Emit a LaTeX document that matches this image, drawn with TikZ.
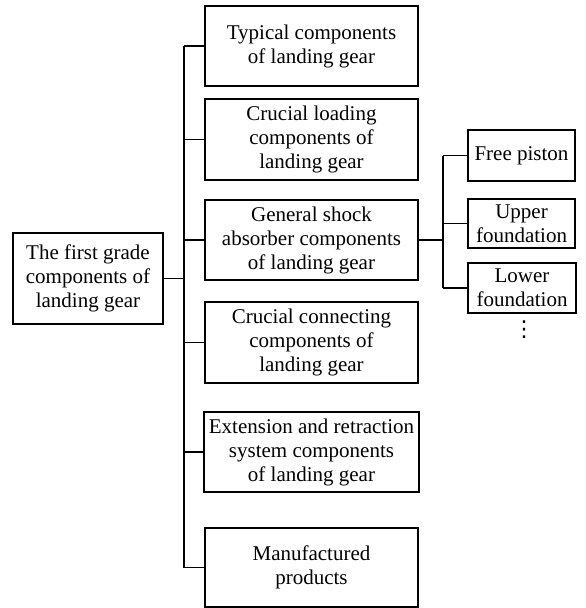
\documentclass[tikz,border=0pt]{standalone}
\usepackage{fontspec}
\setmainfont{Liberation Serif}
\newfontfamily\symfont{DejaVu Sans}
\begin{document}
\begin{tikzpicture}[x=1pt,y=-1pt,
  box/.style={draw,line width=1.3pt,align=center,inner sep=0pt,
    font=\fontsize{21}{24}\selectfont},
  conn/.style={line width=1.3pt}]
\useasboundingbox (0,0) rectangle (586,608);
\node[box,minimum width=150,minimum height=91] (root) at (88,278.5) {The first grade\\components of\\landing gear};
\node[box,minimum width=213,minimum height=80] (b1) at (311.5,46) {Typical components\\of landing gear};
\node[box,minimum width=213,minimum height=81] (b2) at (311.5,139.5) {Crucial loading\\components of\\landing gear};
\node[box,minimum width=213,minimum height=80] (b3) at (311.5,240) {General shock\\absorber components\\of landing gear};
\node[box,minimum width=213,minimum height=81] (b4) at (311.5,342.5) {Crucial connecting\\components of\\landing gear};
\node[box,minimum width=215,minimum height=80] (b5) at (311.5,452) {Extension and retraction\\system components\\of landing gear};
\node[box,minimum width=213,minimum height=79] (b6) at (311.5,567.5) {Manufactured\\products};
\node[box,minimum width=107,minimum height=51] (r1) at (521.5,155.5) {Free piston};
\node[box,minimum width=107,minimum height=49] (r2) at (521.5,223.5) {Upper\\foundation};
\node[box,minimum width=108,minimum height=50] (r3) at (522,288) {Lower\\foundation};
\node[font=\symfont\fontsize{22}{24}\selectfont,inner sep=0pt] (dots) at (524,330) {⋮};
\coordinate (t) at (184,0);
\coordinate (s) at (443,0);
\draw[conn] (root.east) -- (root.east -| t);
\draw[conn] (b1.west -| t) -- (b6.west -| t);
\foreach \b in {b1,b2,b3,b4,b5,b6} {\draw[conn] (\b.west) -- (\b.west -| t);}
\draw[conn] (b3.east) -- (b3.east -| s);
\draw[conn] (r1.west -| s) -- (r3.west -| s);
\foreach \r in {r1,r2,r3} {\draw[conn] (\r.west) -- (\r.west -| s);}
\end{tikzpicture}
\end{document}
